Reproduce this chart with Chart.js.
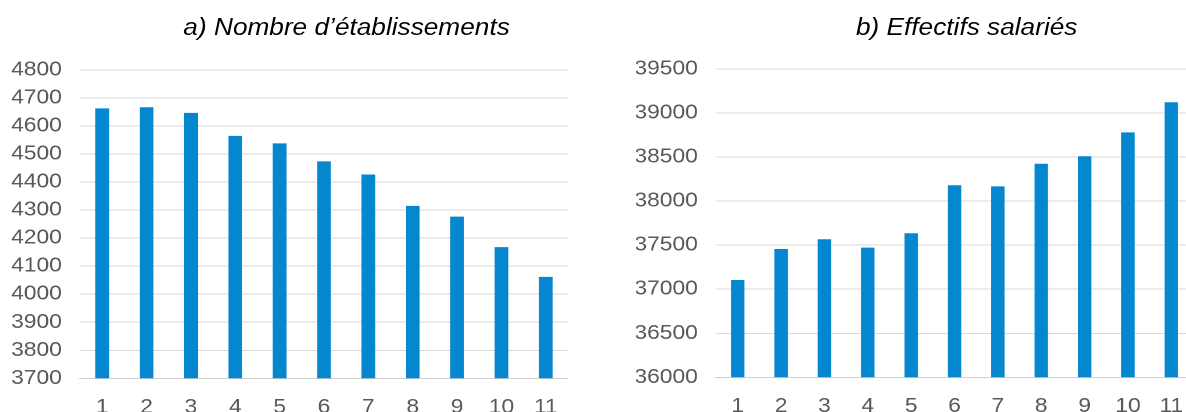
<!DOCTYPE html>
<html>
<head>
<meta charset="utf-8">
<script src="https://cdn.jsdelivr.net/npm/chart.js@4/dist/chart.umd.min.js"></script>
<style>
html, body { margin: 0; padding: 0; overflow: hidden; background: #fff; width: 1186px; height: 412px; }
#wrap { position: absolute; left: 0; top: 0; width: 1070px; height: 430px; transform: scaleX(1.14); transform-origin: 0 0; }
canvas { position: absolute; top: 0; }
#c1 { left: 0; }
#c2 { left: 540px; }
.ttl { position: absolute; top: 16px; width: 400px; text-align: center; font-family: "Liberation Sans", Arial, sans-serif; font-style: italic; font-size: 23px; line-height: 23px; color: #000; white-space: nowrap; }
</style>
</head>
<body>
<div id="wrap">
  <div class="ttl" id="t1" style="left:104px;">a) Nombre d’établissements</div>
  <div class="ttl" id="t2" style="left:648px;">b) Effectifs salariés</div>
  <canvas id="c1" width="520" height="430"></canvas>
  <canvas id="c2" width="520" height="430"></canvas>
</div>
<script>
const categories = ['1', '2', '3', '4', '5', '6', '7', '8', '9', '10', '11'];
const etablissements = [4663, 4667, 4647, 4565, 4538, 4474, 4427, 4315, 4277, 4168, 4062];
const effectifs = [37105, 37457, 37567, 37472, 37635, 38180, 38168, 38425, 38509, 38781, 39122];
const etabTicks = { min: 3700, max: 4800, step: 100 };
const effTicks = { min: 36000, max: 39500, step: 500 };

const BLUE = '#0487CF';
const FONT = { family: '"Liberation Sans", Arial, sans-serif', size: 20 };
const TICK_COLOR = '#595959';
const GRID = '#d9d9d9';

function makeChart(id, values, range, pad, yWidth, xHeight) {
  return new Chart(document.getElementById(id), {
    type: 'bar',
    data: {
      labels: categories,
      datasets: [{
        data: values,
        backgroundColor: BLUE,
        borderWidth: 0,
        barPercentage: 0.31,
        categoryPercentage: 1
      }]
    },
    options: {
      responsive: false,
      animation: false,
      devicePixelRatio: 2,
      layout: { padding: pad },
      plugins: { legend: { display: false }, title: { display: false }, tooltip: { enabled: false } },
      scales: {
        x: {
          offset: true,
          grid: { display: false, drawTicks: false },
          border: { display: true, color: '#cfcfcf', width: 1 },
          ticks: { color: TICK_COLOR, font: FONT, padding: 17, maxRotation: 0, autoSkip: false },
          afterFit: s => { s.height = xHeight; }
        },
        y: {
          min: range.min,
          max: range.max,
          grid: { color: GRID, lineWidth: 1, drawTicks: false },
          border: { display: false },
          ticks: { stepSize: range.step, color: TICK_COLOR, font: FONT, padding: 16, callback: v => String(v) },
          afterFit: s => { s.width = yWidth; }
        }
      }
    }
  });
}

makeChart('c1', etablissements, etabTicks, { top: 70, left: 10.2, right: 21.8, bottom: 0 }, 60, 51.7);
makeChart('c2', effectifs, effTicks, { top: 69, left: 18.1, right: 13.5, bottom: 0 }, 70, 52.7);
</script>
</body>
</html>
